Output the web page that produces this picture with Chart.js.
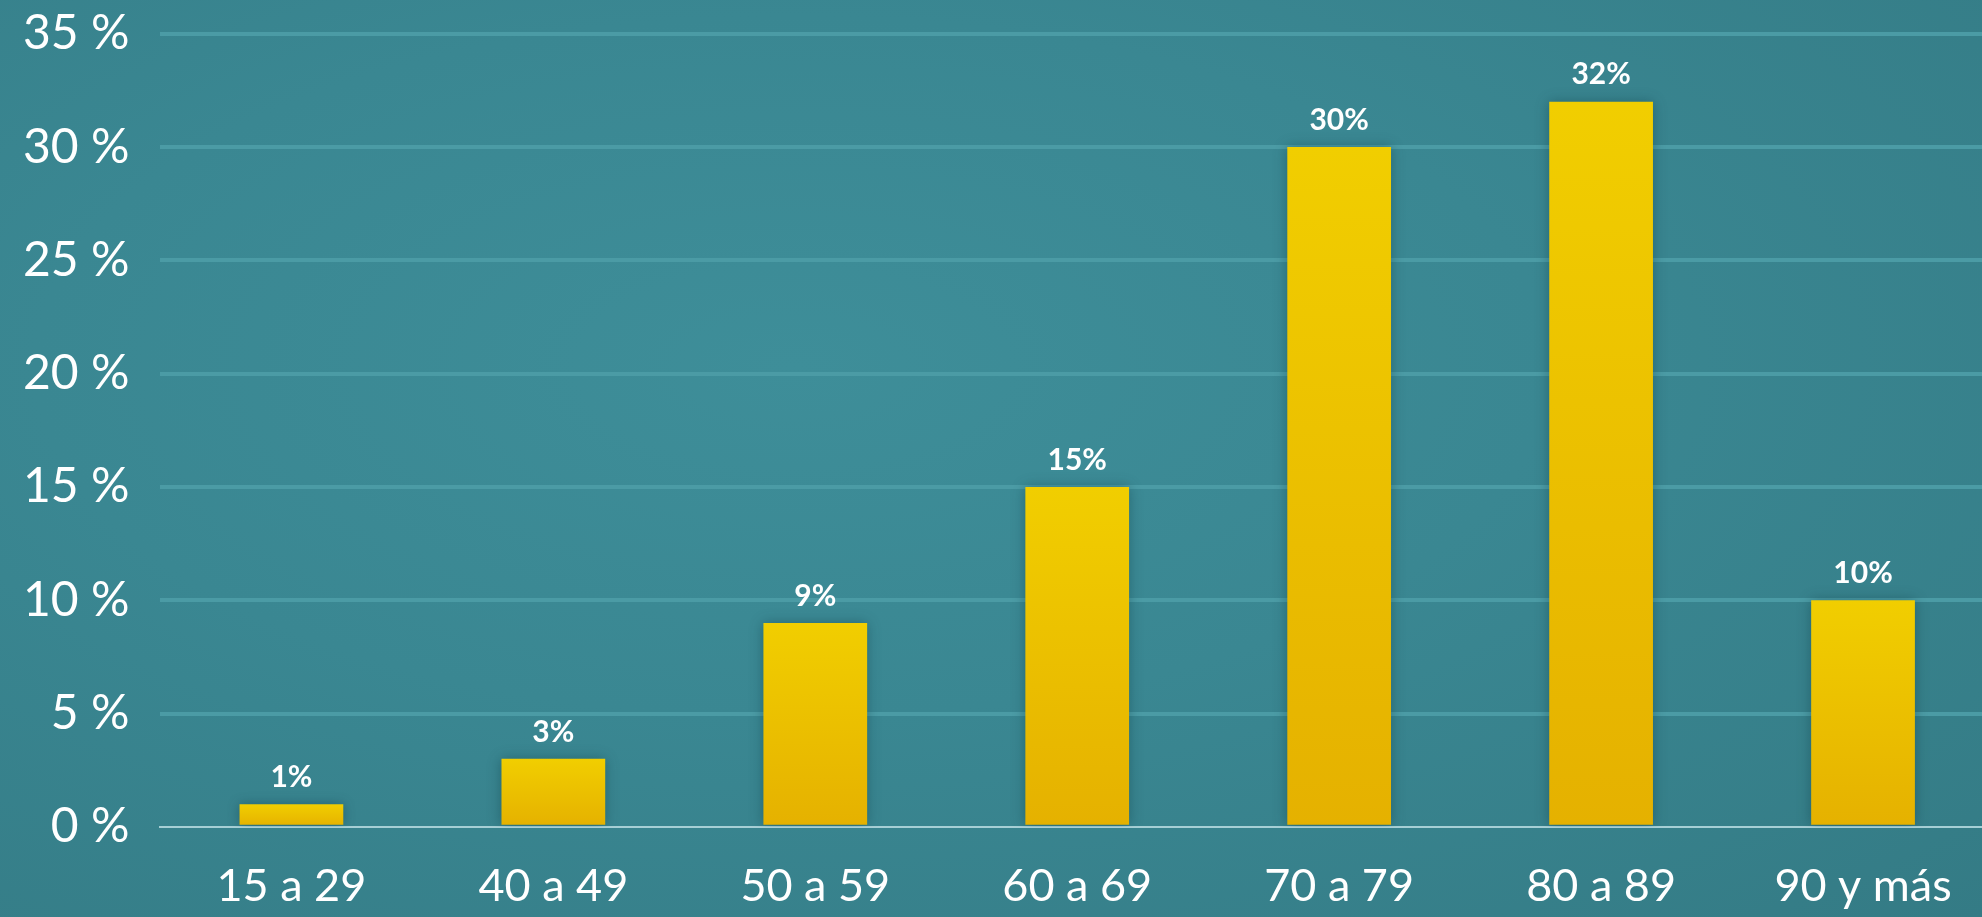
<!DOCTYPE html>
<html lang="es">
<head>
    <meta charset="UTF-8">
    <title>Distribución por edad</title>
    <script src="https://cdn.jsdelivr.net/npm/chart.js"></script>
    <style>
        html, body {
            margin: 0;
            padding: 0;
            width: 1982px;
            height: 917px;
            overflow: hidden;
            background: radial-gradient(ellipse at 40% 40%, #3e8e99 0%, #3a8792 45%, #347b85 100%);
        }
        body { position: relative; }
        .wrap {
            /* el lienzo es algo mayor que la ventana: la ultima barra y las etiquetas quedan como en el original */
            position: absolute;
            left: -8px;
            top: -26px;
            width: 2002px;
            height: 972px;
        }
    </style>
</head>
<body>
    <div class="wrap">
        <canvas id="edadChart"></canvas>
    </div>

    <script>
        const categorias = ['15 a 29', '40 a 49', '50 a 59', '60 a 69', '70 a 79', '80 a 89', '90 y más'];
        const porcentajes = [1, 3, 9, 15, 30, 32, 10];
        const ticksY = [0, 5, 10, 15, 20, 25, 30, 35];

        const fuente = 'Lato, "Open Sans", sans-serif';

        // degradado amarillo en cada barra
        function colorBarra(context) {
            const chart = context.chart;
            if (!chart.chartArea || context.type !== 'data') return '#ecc000';
            const y = chart.scales.y;
            const top = y.getPixelForValue(context.raw);
            const base = y.getPixelForValue(0);
            if (!isFinite(top) || !isFinite(base) || top === base) return '#ecc000';
            const g = chart.ctx.createLinearGradient(0, top, 0, base);
            g.addColorStop(0, '#f1ce00');
            g.addColorStop(1, '#e5b100');
            return g;
        }

        const sombraBarras = {
            id: 'sombraBarras',
            beforeDatasetsDraw(chart) {
                const ctx = chart.ctx;
                ctx.save();
                ctx.shadowColor = 'rgba(0, 40, 50, 0.35)';
                ctx.shadowBlur = 12;
            },
            afterDatasetsDraw(chart) {
                chart.ctx.restore();
            }
        };

        const etiquetas = {
            id: 'etiquetas',
            afterDatasetsDraw(chart) {
                const ctx = chart.ctx;
                const meta = chart.getDatasetMeta(0);
                ctx.save();
                ctx.fillStyle = '#ffffff';
                ctx.font = 'bold 30px ' + fuente;
                ctx.textAlign = 'center';
                ctx.textBaseline = 'middle';
                meta.data.forEach((bar, i) => {
                    ctx.fillText(porcentajes[i] + '%', bar.x, bar.y - 27);
                });
                ctx.restore();
            }
        };

        const ctx = document.getElementById('edadChart').getContext('2d');
        const edadChart = new Chart(ctx, {
            type: 'bar',
            data: {
                labels: categorias,
                datasets: [{
                    data: porcentajes,
                    backgroundColor: colorBarra,
                    borderWidth: 0,
                    categoryPercentage: 1,
                    barPercentage: 0.396
                }]
            },
            options: {
                responsive: true,
                maintainAspectRatio: false,
                animation: false,
                layout: {
                    padding: 0
                },
                scales: {
                    x: {
                        grid: { display: false, drawTicks: false },
                        border: { display: true, color: '#a6cfd5', width: 2 },
                        ticks: {
                            color: '#ffffff',
                            padding: 32.6,
                            font: { family: fuente, size: 45 }
                        }
                    },
                    y: {
                        min: 0,
                        max: 35,
                        afterBuildTicks(axis) {
                            axis.ticks = ticksY.map(v => ({ value: v }));
                        },
                        grid: {
                            drawTicks: false,
                            lineWidth: 4,
                            color: (c) => c.tick && c.tick.value === 0 ? 'rgba(0,0,0,0)' : '#4b9ba5'
                        },
                        border: { display: false },
                        ticks: {
                            color: '#ffffff',
                            padding: 31,
                            font: { family: fuente, size: 48 },
                            callback: function(value) {
                                return value + ' %';
                            }
                        }
                    }
                },
                plugins: {
                    legend: { display: false },
                    tooltip: { enabled: false }
                }
            },
            plugins: [sombraBarras, etiquetas]
        });
    </script>
</body>
</html>
